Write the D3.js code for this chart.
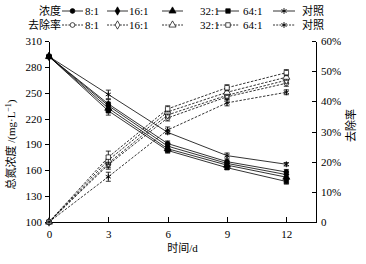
<!DOCTYPE html>
<html>
<head>
<meta charset="utf-8">
<script src="https://cdn.jsdelivr.net/npm/d3@7"></script>
<style>
  html, body { margin: 0; padding: 0; background: #fff; }
  svg { display: block; }
  text {
    font-family: "Liberation Serif", "Noto Sans CJK SC", serif;
    font-size: 11px;
    fill: #000;
  }
  .axis path, .axis line { stroke: #000; stroke-width: 1; shape-rendering: crispEdges; }
</style>
</head>
<body>
<svg id="chart" width="366" height="264"></svg>
<script>
// Sampling days (x axis)
const days = [0, 3, 6, 9, 12];
const seriesNames = ['8:1', '16:1', '32:1', '64:1', '对照'];

// Total nitrogen concentration, mg/L (solid lines, left axis)
const conc_8 = [292, 237, 191, 170, 158];
const conc_16 = [292, 235, 188, 168, 155];
const conc_32 = [292, 232, 185, 166, 152];
const conc_64 = [292, 229, 183, 163, 147];
const conc_ck = [292, 248, 204, 177, 167];
const concErr = [[1, 5, 3, 2, 3], [1, 4, 3, 2, 3], [1, 4, 3, 2, 3], [1, 5, 3, 2, 3], [1, 5, 2, 3, 2]];

// Removal rate, % (dashed lines, right axis)
const rate_8 = [0, 19, 34.5, 41.5, 46];
const rate_16 = [0, 19.5, 35.5, 42, 47];
const rate_32 = [0, 20.5, 36.5, 43, 48];
const rate_64 = [0, 21.5, 37.5, 44.5, 49.5];
const rate_ck = [0, 15, 30.5, 39.5, 43];
const rateErr = [[0, 1.5, 1, 1, 1], [0, 1.5, 1, 1, 1], [0, 1.5, 1, 1, 1], [0, 2, 1, 1, 1], [0, 1.5, 1, 1, 0.8]];

// Tick values
const xTicks = [0, 3, 6, 9, 12];
const yLeftTicks = [100, 130, 160, 190, 220, 250, 280, 310];
const yRightTicks = [0, 10, 20, 30, 40, 50, 60];

const concData = [conc_8, conc_16, conc_32, conc_64, conc_ck];
const rateData = [rate_8, rate_16, rate_32, rate_64, rate_ck];

const W = 366, H = 264;
const margin = { top: 41, right: 50, bottom: 42, left: 49 };

const svg = d3.select('#chart');

const x = d3.scaleLinear().domain([0, 13.5]).range([margin.left, W - margin.right]);
const yL = d3.scaleLinear().domain([100, 310]).range([H - margin.bottom, margin.top]);
const yR = d3.scaleLinear().domain([0, 60]).range([H - margin.bottom, margin.top]);

// Marker shapes per series; the control uses an asterisk
const starSym = d3.symbolAsterisk || d3.symbolTimes;
const symbols = [d3.symbolCircle, d3.symbolDiamond, d3.symbolTriangle, d3.symbolSquare, starSym];
const symSizes = [18, 20, 22, 20, 24];

function marker(sel, i, filled) {
  const isStar = i === 4;
  sel.append('path')
    .attr('d', d3.symbol().type(symbols[i]).size(symSizes[i]))
    .attr('fill', isStar ? 'none' : (filled ? '#000' : '#fff'))
    .attr('stroke', '#000')
    .attr('stroke-width', isStar ? 0.9 : 0.7);
}

// ---- axes ----
svg.append('g')
  .attr('class', 'axis')
  .attr('transform', `translate(0,${H - margin.bottom})`)
  .call(d3.axisBottom(x).tickValues(xTicks).tickSizeInner(-5).tickSizeOuter(0).tickPadding(6))
  .call(g => g.selectAll('text').attr('dy', '0.9em'));

svg.append('g')
  .attr('class', 'axis')
  .attr('transform', `translate(${margin.left},0)`)
  .call(d3.axisLeft(yL).tickValues(yLeftTicks).tickSizeInner(4).tickSizeOuter(0).tickPadding(3));

svg.append('g')
  .attr('class', 'axis')
  .attr('transform', `translate(${W - margin.right},0)`)
  .call(d3.axisRight(yR).tickValues(yRightTicks).tickSizeInner(-4).tickSizeOuter(0).tickPadding(5)
    .tickFormat(d => d === 0 ? '0' : d + '%'));

svg.selectAll('.axis .domain').attr('stroke', '#000');

// Axis titles
svg.append('text')
  .attr('x', (margin.left + W - margin.right) / 2)
  .attr('y', 252)
  .attr('text-anchor', 'middle')
  .text('时间/d');

const leftTitle = svg.append('text')
  .attr('transform', `translate(15,${(margin.top + H - margin.bottom) / 2 + 13}) rotate(-90)`)
  .attr('text-anchor', 'middle');
leftTitle.append('tspan').text('总氮浓度 /(mg·L');
leftTitle.append('tspan').attr('dy', -4).style('font-size', '8px').text('−1');
leftTitle.append('tspan').attr('dy', 4).text(')');

svg.append('text')
  .attr('transform', `translate(355,${(margin.top + H - margin.bottom) / 2 - 6}) rotate(-90)`)
  .attr('text-anchor', 'middle')
  .text('去除率');

// ---- data ----
function drawSeries(values, errs, yScale, i, dashed) {
  const g = svg.append('g');
  const pts = days.map((d, j) => ({ d: d, v: values[j], e: errs[j] }));

  g.append('path')
    .datum(pts)
    .attr('fill', 'none')
    .attr('stroke', '#000')
    .attr('stroke-width', 0.8)
    .attr('stroke-dasharray', dashed ? '2.5,1.5' : null)
    .attr('d', d3.line().x(p => x(p.d)).y(p => yScale(p.v)));

  // error bars with small caps
  const eb = g.selectAll('.eb').data(pts.filter(p => p.e > 0)).enter().append('g');
  eb.append('line')
    .attr('x1', p => x(p.d)).attr('x2', p => x(p.d))
    .attr('y1', p => yScale(p.v - p.e)).attr('y2', p => yScale(p.v + p.e))
    .attr('stroke', '#000').attr('stroke-width', 0.8);
  [-1, 1].forEach(s => {
    eb.append('line')
      .attr('x1', p => x(p.d) - 2.5).attr('x2', p => x(p.d) + 2.5)
      .attr('y1', p => yScale(p.v + s * p.e)).attr('y2', p => yScale(p.v + s * p.e))
      .attr('stroke', '#000').attr('stroke-width', 0.8);
  });

  g.selectAll('.mk').data(pts).enter().append('g')
    .attr('transform', p => `translate(${x(p.d)},${yScale(p.v)})`)
    .each(function () { marker(d3.select(this), i, !dashed); });
}

concData.forEach((vals, i) => drawSeries(vals, concErr[i], yL, i, false));
rateData.forEach((vals, i) => drawSeries(vals, rateErr[i], yR, i, true));

// ---- legend (two rows) ----
const legendRows = [
  { title: '浓度', y: 11, dashed: false },
  { title: '去除率', y: 25, dashed: true }
];
const legendItems = [
  { x0: 62, x1: 83, tx: 85 },
  { x0: 107, x1: 128, tx: 129 },
  { x0: 162, x1: 183, tx: 200 },
  { x0: 217, x1: 239, tx: 243 },
  { x0: 273, x1: 295, tx: 302 }
];

legendRows.forEach(row => {
  const g = svg.append('g');
  g.append('text')
    .attr('x', 61).attr('y', row.y).attr('dy', '0.35em')
    .attr('text-anchor', 'end')
    .text(row.title);
  legendItems.forEach((it, i) => {
    g.append('line')
      .attr('x1', it.x0).attr('x2', it.x1)
      .attr('y1', row.y).attr('y2', row.y)
      .attr('stroke', '#000').attr('stroke-width', 0.8)
      .attr('stroke-dasharray', row.dashed ? '2,1.2' : null);
    const m = g.append('g').attr('transform', `translate(${(it.x0 + it.x1) / 2},${row.y})`);
    marker(m, i, !row.dashed);
    g.append('text')
      .attr('x', it.tx).attr('y', row.y).attr('dy', '0.35em')
      .text(seriesNames[i]);
  });
});
</script>
</body>
</html>
